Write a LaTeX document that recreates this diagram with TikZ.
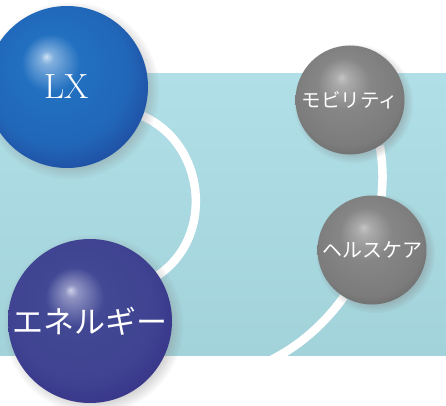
\documentclass[tikz,border=0pt]{standalone}
\usepackage{fontspec}
\newfontfamily\jpfont{Noto Sans CJK JP}
\usetikzlibrary{shadows,fadings}

\definecolor{bandtop}{RGB}{176,223,231}
\definecolor{bandbot}{RGB}{162,210,218}
\definecolor{lxhi}{RGB}{205,225,245}
\definecolor{lxbase}{RGB}{34,112,192}
\definecolor{lxedge}{RGB}{30,66,152}
\definecolor{enhi}{RGB}{205,208,232}
\definecolor{enbase}{RGB}{66,72,148}
\definecolor{enedge}{RGB}{52,46,134}
\definecolor{grhi}{RGB}{196,196,196}
\definecolor{grbase}{RGB}{134,134,134}
\definecolor{gredge}{RGB}{92,92,92}

\pgfdeclareradialshading{lxball}{\pgfpoint{-6.5bp}{9.5bp}}{color(0bp)=(lxhi); color(2bp)=(lxhi!55!lxbase); color(9bp)=(lxbase); color(22bp)=(lxbase!80!lxedge); color(33bp)=(lxedge); color(40bp)=(lxedge)}
\pgfdeclareradialshading{enball}{\pgfpoint{-6bp}{9.5bp}}{color(0bp)=(enhi); color(2bp)=(enhi!55!enbase); color(9bp)=(enbase); color(22bp)=(enbase!80!enedge); color(33bp)=(enedge); color(40bp)=(enedge)}
\pgfdeclareradialshading{grball}{\pgfpoint{-4bp}{10.5bp}}{color(0bp)=(grhi); color(3bp)=(grhi!60!grbase); color(12bp)=(grbase); color(25bp)=(grbase!75!gredge); color(35bp)=(gredge); color(40bp)=(gredge)}

\pgfdeclarelayer{band}
\pgfdeclarelayer{links}
\pgfsetlayers{band,links,main}

\begin{document}
\begin{tikzpicture}[x=1pt,y=1pt,
    sphere/.style={circle,inner sep=0pt,text=white,
      circular drop shadow={shadow xshift=3pt,shadow yshift=-3pt,opacity=.35}},
    link/.style={white,line width=8.5pt}]
  \useasboundingbox (0,0) rectangle (446,405);

  \node[sphere,shading=lxball,minimum size=162pt,font=\fontsize{35}{35}\selectfont] (lx) at (67,318) {LX};
  \node[sphere,shading=enball,minimum size=164pt,font=\jpfont\fontsize{31}{31}\selectfont] (energy) at (90,84) {エネルギー};
  \node[sphere,shading=grball,minimum size=109pt,font=\jpfont\fontsize{19.5}{19.5}\selectfont] (mobility) at (350,305) {モビリティ};
  \node[sphere,shading=grball,minimum size=109pt,font=\jpfont\fontsize{20}{20}\selectfont] (health) at (372,155) {ヘルスケア};

  \begin{pgfonlayer}{band}
    \shade[top color=bandtop,bottom color=bandbot] (0,50) rectangle (446,331);
  \end{pgfonlayer}

  \begin{pgfonlayer}{links}
    \coordinate (hcend) at (248,35);
    \draw[link] (lx.-21) to[out=-24,in=34,looseness=1.1] (energy.34);
    \draw[link] (mobility.-57) to[out=-81,in=85] (health.80);
    \draw[link] (health.-121) to[out=-126,in=20,looseness=.9] (hcend);
  \end{pgfonlayer}
\end{tikzpicture}
\end{document}
